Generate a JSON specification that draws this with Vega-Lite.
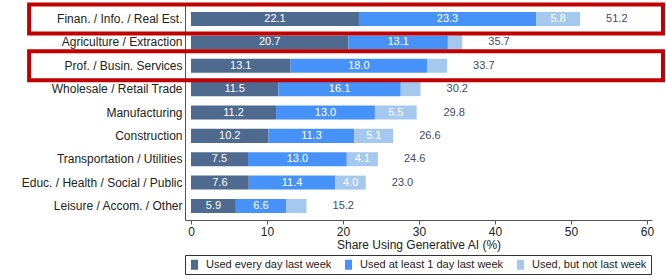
{
  "$schema": "https://vega.github.io/schema/vega-lite/v6.json",
  "autosize": "none",
  "width": 467,
  "height": 215,
  "padding": {"left": 185, "top": 5, "right": 14, "bottom": 60},
  "config": {
    "font": "Liberation Sans",
    "view": {"stroke": null},
    "axis": {"domainColor": "#555555", "tickColor": "#555555", "labelColor": "#222222", "titleColor": "#222222", "grid": false}
  },
  "datasets": {
    "segments": [
      {"industry": "Finan. / Info. / Real Est.", "type": "Used every day last week", "order": 1, "value": 22.1},
      {"industry": "Finan. / Info. / Real Est.", "type": "Used at least 1 day last week", "order": 2, "value": 23.3},
      {"industry": "Finan. / Info. / Real Est.", "type": "Used, but not last week", "order": 3, "value": 5.8},
      {"industry": "Agriculture / Extraction", "type": "Used every day last week", "order": 1, "value": 20.7},
      {"industry": "Agriculture / Extraction", "type": "Used at least 1 day last week", "order": 2, "value": 13.1},
      {"industry": "Agriculture / Extraction", "type": "Used, but not last week", "order": 3, "value": 1.9},
      {"industry": "Prof. / Busin. Services", "type": "Used every day last week", "order": 1, "value": 13.1},
      {"industry": "Prof. / Busin. Services", "type": "Used at least 1 day last week", "order": 2, "value": 18.0},
      {"industry": "Prof. / Busin. Services", "type": "Used, but not last week", "order": 3, "value": 2.6},
      {"industry": "Wholesale / Retail Trade", "type": "Used every day last week", "order": 1, "value": 11.5},
      {"industry": "Wholesale / Retail Trade", "type": "Used at least 1 day last week", "order": 2, "value": 16.1},
      {"industry": "Wholesale / Retail Trade", "type": "Used, but not last week", "order": 3, "value": 2.6},
      {"industry": "Manufacturing", "type": "Used every day last week", "order": 1, "value": 11.2},
      {"industry": "Manufacturing", "type": "Used at least 1 day last week", "order": 2, "value": 13.0},
      {"industry": "Manufacturing", "type": "Used, but not last week", "order": 3, "value": 5.5},
      {"industry": "Construction", "type": "Used every day last week", "order": 1, "value": 10.2},
      {"industry": "Construction", "type": "Used at least 1 day last week", "order": 2, "value": 11.3},
      {"industry": "Construction", "type": "Used, but not last week", "order": 3, "value": 5.1},
      {"industry": "Transportation / Utilities", "type": "Used every day last week", "order": 1, "value": 7.5},
      {"industry": "Transportation / Utilities", "type": "Used at least 1 day last week", "order": 2, "value": 13.0},
      {"industry": "Transportation / Utilities", "type": "Used, but not last week", "order": 3, "value": 4.1},
      {"industry": "Educ. / Health / Social / Public", "type": "Used every day last week", "order": 1, "value": 7.6},
      {"industry": "Educ. / Health / Social / Public", "type": "Used at least 1 day last week", "order": 2, "value": 11.4},
      {"industry": "Educ. / Health / Social / Public", "type": "Used, but not last week", "order": 3, "value": 4.0},
      {"industry": "Leisure / Accom. / Other", "type": "Used every day last week", "order": 1, "value": 5.9},
      {"industry": "Leisure / Accom. / Other", "type": "Used at least 1 day last week", "order": 2, "value": 6.6},
      {"industry": "Leisure / Accom. / Other", "type": "Used, but not last week", "order": 3, "value": 2.7}
    ],
    "totals": [
      {"industry": "Finan. / Info. / Real Est.", "total": 51.2},
      {"industry": "Agriculture / Extraction", "total": 35.7},
      {"industry": "Prof. / Busin. Services", "total": 33.7},
      {"industry": "Wholesale / Retail Trade", "total": 30.2},
      {"industry": "Manufacturing", "total": 29.8},
      {"industry": "Construction", "total": 26.6},
      {"industry": "Transportation / Utilities", "total": 24.6},
      {"industry": "Educ. / Health / Social / Public", "total": 23.0},
      {"industry": "Leisure / Accom. / Other", "total": 15.2}
    ],
    "highlights": [
      {"industry": "Finan. / Info. / Real Est."},
      {"industry": "Prof. / Busin. Services"}
    ]
  },
  "encoding": {
    "y": {
      "field": "industry", "type": "nominal", "sort": null,
      "scale": {"paddingInner": 0.4, "paddingOuter": 0.3},
      "axis": {"title": null, "ticks": false, "labelPadding": 3, "labelFontSize": 12, "labelLimit": 300}
    }
  },
  "layer": [
    {
      "data": {"name": "segments"},
      "transform": [
        {"stack": "value", "groupby": ["industry"], "sort": [{"field": "order", "order": "ascending"}], "as": ["x0", "x1"]}
      ],
      "mark": {"type": "bar"},
      "encoding": {
        "x": {
          "field": "x0", "type": "quantitative",
          "scale": {"domain": [-0.789, 60.658], "nice": false, "zero": false},
          "axis": {"values": [0, 10, 20, 30, 40, 50, 60], "tickSize": 4, "labelFontSize": 12, "labelPadding": 2, "title": "Share Using Generative AI (%)", "titleFontSize": 12, "titleFontWeight": "normal", "titlePadding": 2}
        },
        "x2": {"field": "x1"},
        "color": {
          "field": "type", "type": "nominal",
          "scale": {"domain": ["Used every day last week", "Used at least 1 day last week", "Used, but not last week"], "range": ["#4e6a8e", "#4792f8", "#a5c9ee"]},
          "legend": {
            "title": null, "orient": "bottom", "direction": "horizontal", "offset": 5,
            "strokeColor": "#333333", "padding": 4, "labelFontSize": 11, "labelColor": "#222222",
            "columnPadding": 11, "symbolType": "M-0.7,-1H0.7V1H-0.7Z", "symbolSize": 100, "symbolStrokeWidth": 0, "symbolOpacity": 1, "labelOffset": 6
          }
        }
      }
    },
    {
      "data": {"name": "segments"},
      "transform": [
        {"stack": "value", "groupby": ["industry"], "sort": [{"field": "order", "order": "ascending"}], "as": ["x0", "x1"]},
        {"filter": "datum.value >= 3"},
        {"fold": ["x0", "x1"], "as": ["edge", "pos"]},
        {"aggregate": [{"op": "mean", "field": "pos", "as": "mid"}], "groupby": ["industry", "type", "value"]}
      ],
      "mark": {"type": "text", "fontSize": 11, "color": "white", "baseline": "middle", "align": "center"},
      "encoding": {
        "x": {"field": "mid", "type": "quantitative"},
        "text": {"field": "value", "type": "quantitative", "format": ".1f"}
      }
    },
    {
      "data": {"name": "totals"},
      "mark": {"type": "text", "fontSize": 11, "color": "#3d4b6b", "baseline": "middle", "align": "left", "dx": 26},
      "encoding": {
        "x": {"field": "total", "type": "quantitative"},
        "text": {"field": "total", "type": "quantitative", "format": ".1f"}
      }
    },
    {
      "data": {"name": "highlights"},
      "mark": {"type": "bar", "height": 29, "fill": null, "fillOpacity": 0, "stroke": "#c00000", "strokeWidth": 4, "clip": false},
      "encoding": {
        "x": {"datum": -21.3, "type": "quantitative"},
        "x2": {"datum": 62.1}
      }
    }
  ]
}
